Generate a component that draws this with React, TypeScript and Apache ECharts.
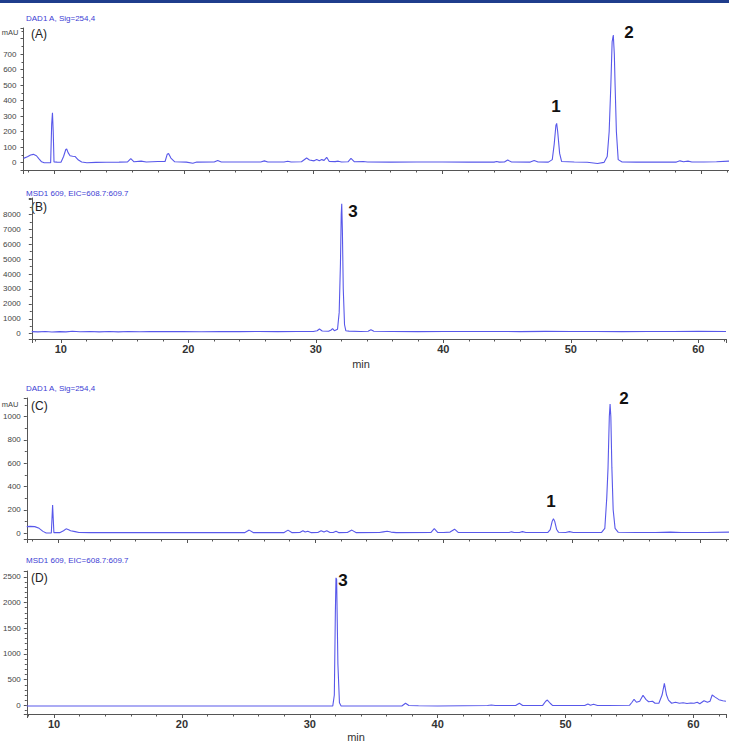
import React, { useEffect, useRef } from "react";
import * as echarts from "echarts";

// (time in min, signal)
const panelA: [number, number][] = [
  [7.6, 28], [7.9, 38], [8.15, 50], [8.36, 54], [8.6, 45], [8.8, 25], [9.0, 6], [9.2, 0], [9.7, 0],
  [9.78, 250], [9.84, 322], [9.9, 200], [9.96, 5], [10.2, 4], [10.5, 3], [10.7, 40], [10.87, 85],
  [10.94, 88], [11.05, 65], [11.2, 45], [11.4, 42], [11.6, 40], [11.85, 17], [12.1, 5], [12.5, 0],
  [13.2, 2], [14.0, 3], [15.0, 4], [15.65, 5], [15.9, 26], [16.15, 6], [16.7, 10], [17.1, 5],
  [18.0, 8], [18.55, 8], [18.72, 55], [18.82, 60], [19.0, 30], [19.3, 6], [20.2, 4], [20.7, -3],
  [21.0, 4], [22.35, 5], [22.62, 15], [22.9, 5], [25.95, 5], [26.23, 12], [26.5, 5], [27.75, 5],
  [28.04, 10], [28.3, 5], [29.1, 6], [29.5, 30], [29.72, 18], [29.89, 15], [30.08, 12], [30.28, 20],
  [30.48, 13], [30.67, 20], [30.85, 15], [31.05, 35], [31.25, 8], [31.7, 7], [31.95, 10], [32.2, 5],
  [32.7, 6], [32.93, 28], [33.2, 6], [33.89, 8], [34.2, 5], [36, 4], [38, 5], [40, 5], [42, 4],
  [44.0, 4], [44.2, 8], [44.4, 4], [44.8, 5], [45.05, 17], [45.35, 5], [46.8, 4], [47.1, 15],
  [47.4, 5], [48.2, 4], [48.5, 20], [48.65, 120], [48.78, 240], [48.84, 254], [48.92, 200],
  [49.07, 60], [49.22, 8], [50.2, 5], [51.2, 3], [52.0, -5], [52.5, 2], [52.75, 40], [52.9, 200],
  [53.03, 500], [53.13, 780], [53.22, 824], [53.3, 700], [53.36, 500], [53.46, 200], [53.6, 20],
  [53.9, 5], [55, 4], [56, 4], [57, 4], [58.1, 4], [58.38, 12], [58.65, 6], [59.0, 10], [59.3, 5],
  [60.2, 5], [61.2, 6], [62.17, 10],
];

const panelB: [number, number][] = [
  [7.72, 140], [8.2, 120], [8.8, 150], [9.3, 110], [9.9, 140], [10.4, 120], [10.9, 160], [11.5, 130],
  [12.3, 150], [13.0, 120], [13.8, 150], [14.5, 125], [15.3, 150], [16.2, 130], [17.0, 150],
  [18.0, 140], [19.5, 150], [21.0, 135], [22.5, 150], [24.0, 140], [25.5, 150], [27.0, 140],
  [28.5, 150], [29.8, 145], [30.1, 200], [30.28, 315], [30.5, 180], [31.0, 160], [31.2, 250],
  [31.31, 335], [31.45, 200], [31.7, 300], [31.83, 1430], [31.93, 4745], [31.99, 8000], [32.03, 8725],
  [32.08, 7000], [32.15, 3000], [32.25, 600], [32.35, 200], [32.6, 170], [33.5, 150], [34.1, 160],
  [34.32, 270], [34.55, 160], [36, 150], [38, 140], [40, 150], [42, 145], [44, 150], [46, 140],
  [48, 155], [50, 145], [52, 150], [54, 140], [56, 150], [58, 145], [60, 155], [62.17, 150],
];

const panelC: [number, number][] = [
  [7.54, 55], [7.8, 57], [8.16, 55], [8.5, 40], [8.8, 14], [9.05, 0], [9.45, 0], [9.5, 120],
  [9.55, 240], [9.6, 120], [9.65, 3], [10.1, 3], [10.4, 20], [10.6, 36], [10.8, 28], [10.95, 20],
  [11.3, 12], [11.6, 5], [12.5, 3], [15, 3], [18, 3], [21, 3], [24.5, 3], [24.86, 25], [25.2, 3],
  [27.55, 3], [27.88, 25], [28.2, 3], [28.8, 4], [29.04, 20], [29.22, 8], [29.42, 15], [29.7, 3],
  [30.2, 4], [30.46, 20], [30.68, 8], [30.9, 20], [31.15, 4], [31.4, 4], [31.62, 15], [31.85, 3],
  [32.5, 4], [32.85, 25], [33.2, 3], [35.0, 4], [35.3, 10], [35.6, 15], [35.9, 8], [36.3, 3],
  [39.0, 4], [39.27, 37], [39.55, 4], [40.0, 5], [40.5, 8], [40.85, 33], [41.15, 4], [43, 4],
  [45.1, 4], [45.28, 10], [45.5, 4], [45.9, 5], [46.13, 12], [46.4, 4], [48.1, 4], [48.3, 30],
  [48.45, 100], [48.55, 123], [48.65, 100], [48.8, 30], [48.95, 6], [49.5, 5], [49.79, 12],
  [50.1, 5], [51.5, 4], [52.3, 5], [52.55, 40], [52.7, 300], [52.8, 560], [52.9, 1000],
  [52.96, 1110], [53.02, 1000], [53.1, 560], [53.2, 200], [53.35, 40], [53.6, 6], [55, 5],
  [56.5, 4], [57.66, 8], [58.5, 5], [60.5, 5], [62.22, 8],
];

const panelD: [number, number][] = [
  [7.87, -12], [10, -12], [15, -12], [20, -12], [25, -12], [30, -12], [31.8, -12], [31.92, 200],
  [32.0, 1800], [32.05, 2480], [32.1, 2450], [32.2, 800], [32.32, 50], [32.45, -12], [34, -12],
  [37.2, -12], [37.49, 39], [37.75, -5], [38.5, -8], [40, -12], [42, -8], [43.9, -5], [44.2, 5],
  [44.5, -5], [46.1, -5], [46.39, 40], [46.65, -5], [48.2, -5], [48.45, 80], [48.58, 103],
  [48.8, 40], [49.0, -5], [51.5, -5], [51.75, 25], [51.95, 0], [52.19, 20], [52.5, -5], [53.3, -5],
  [55.0, 0], [55.2, 60], [55.36, 117], [55.55, 60], [55.8, 80], [56.06, 195], [56.3, 110],
  [56.5, 70], [56.8, 80], [57.0, 40], [57.3, 40], [57.55, 200], [57.73, 428], [57.9, 200],
  [58.05, 100], [58.3, 40], [58.6, 60], [58.9, 40], [59.2, 50], [59.5, 35], [59.8, 45],
  [60.05, 40], [60.3, 60], [60.5, 30], [60.83, 90], [61.1, 60], [61.3, 80], [61.47, 200],
  [61.7, 160], [62.0, 110], [62.3, 90], [62.55, 80],
];

const headers = ["DAD1 A, Sig=254,4", "MSD1 609, EIC=608.7:609.7", "DAD1 A, Sig=254,4", "MSD1 609, EIC=608.7:609.7"];
const panelTags = ["(A)", "(B)", "(C)", "(D)"];
const yUnit = "mAU";
const xName = "min";

// layout per panel
const layout = [
  { data: panelA, top: 28, height: 142, left: 23.5, xMin: 7.6, xMax: 62.17, yMin: -47, yMax: 869, yStep: 100, yLabelMax: 700, minor: 2, showX: false, unit: true, labelMargin: 7, headerY: 18, tagY: 34, unitY: 32 },
  { data: panelB, top: 198, height: 141, left: 25, xMin: 7.72, xMax: 62.17, yMin: -356, yMax: 9107, yStep: 1000, yLabelMax: 8000, minor: 2, showX: true, unit: false, labelMargin: 11, headerY: 193.5, tagY: 206.5, unitY: 0 },
  { data: panelC, top: 398, height: 141, left: 22, xMin: 7.54, xMax: 62.22, yMin: -51.5, yMax: 1161, yStep: 200, yLabelMax: 1000, minor: 2, showX: false, unit: true, labelMargin: 6, headerY: 388, tagY: 406, unitY: 404 },
  { data: panelD, top: 571, height: 143, left: 22, xMin: 7.87, xMax: 62.55, yMin: -169, yMax: 2613, yStep: 500, yLabelMax: 2500, minor: 5, showX: true, unit: false, labelMargin: 6, headerY: 560, tagY: 578, unitY: 0 },
];

const peakLabels = [
  { text: "1", x: 556, y: 106 },
  { text: "2", x: 629, y: 32 },
  { text: "3", x: 353, y: 211 },
  { text: "1", x: 551, y: 501 },
  { text: "2", x: 624, y: 398 },
  { text: "3", x: 343, y: 580 },
];

const minLabels = [
  { x: 361, y: 364 },
  { x: 356, y: 737 },
];

const LINE = "#5858ea";
const AXIS = "#555";
const FONT = "Liberation Sans, Arial, sans-serif";

export default function App() {
  const ref = useRef<HTMLDivElement>(null);
  useEffect(() => {
    if (!ref.current) return;
    const chart = echarts.init(ref.current, undefined, { renderer: "svg" });
    const grids = layout.map((p) => ({ left: p.left, right: 0, top: p.top, height: p.height }));
    const xAxes = layout.map((p, i) => ({
      type: "value",
      gridIndex: i,
      min: p.xMin,
      max: p.xMax,
      minInterval: 10,
      maxInterval: 10,
      axisLine: { show: true, onZero: false, lineStyle: { color: AXIS, width: 1 } },
      axisTick: { show: true, length: 4, lineStyle: { color: AXIS } },
      minorTick: { show: true, splitNumber: 5, length: 2.5, lineStyle: { color: AXIS } },
      splitLine: { show: false },
      axisLabel: {
        show: p.showX,
        margin: 4,
        fontSize: 11,
        fontWeight: "bold",
        fontFamily: "Liberation Sans Narrow, Liberation Sans, Arial",
        color: "#333",
        formatter: (v: number) => (Math.abs(v % 10) < 1e-6 && v >= 10 && v <= 60 ? String(v) : ""),
      },
    }));
    const yAxes = layout.map((p, i) => ({
      type: "value",
      gridIndex: i,
      min: p.yMin,
      max: p.yMax,
      minInterval: p.yStep,
      maxInterval: p.yStep,
      axisLine: { show: true, onZero: false, lineStyle: { color: AXIS, width: 1 } },
      axisTick: { show: true, length: 3, lineStyle: { color: AXIS } },
      minorTick: { show: true, splitNumber: p.minor, length: 2, lineStyle: { color: AXIS } },
      splitLine: { show: false },
      axisLabel: {
        margin: p.labelMargin,
        fontSize: 8,
        fontFamily: FONT,
        color: "#444",
        formatter: (v: number) =>
          v >= 0 && v <= p.yLabelMax && Math.abs(v % p.yStep) < 1e-6 ? String(v) : "",
      },
    }));
    const series = layout.map((p, i) => ({
      type: "line",
      xAxisIndex: i,
      yAxisIndex: i,
      data: p.data,
      symbol: "none",
      showSymbol: false,
      clip: true,
      lineStyle: { color: LINE, width: 1.1 },
    }));
    const graphics: any[] = [
      { type: "rect", shape: { x: 0, y: 0, width: 729, height: 3 }, style: { fill: "#1f3d8c" } },
    ];
    layout.forEach((p, i) => {
      graphics.push({
        type: "text", x: 26, y: p.headerY,
        style: { text: headers[i], fill: "#3d3dd4", fontSize: 8, fontFamily: FONT, textVerticalAlign: "middle", verticalAlign: "middle" },
      });
      graphics.push({
        type: "text", x: 31, y: p.tagY,
        style: { text: panelTags[i], fill: "#222", fontSize: 12, fontFamily: FONT, textVerticalAlign: "middle", verticalAlign: "middle" },
      });
      if (p.unit) {
        graphics.push({
          type: "text", x: 18.5, y: p.unitY,
          style: { text: yUnit, fill: "#444", fontSize: 7.5, fontFamily: FONT, textAlign: "right", align: "right", textVerticalAlign: "middle", verticalAlign: "middle" },
        });
      }
    });
    peakLabels.forEach((l) => {
      graphics.push({
        type: "text", x: l.x, y: l.y,
        style: { text: l.text, fill: "#111", fontSize: 17, fontWeight: "bold", fontFamily: FONT, textAlign: "center", align: "center", textVerticalAlign: "middle", verticalAlign: "middle" },
      });
    });
    minLabels.forEach((m) => {
      graphics.push({
        type: "text", x: m.x, y: m.y,
        style: { text: xName, fill: "#333", fontSize: 11, fontFamily: FONT, textAlign: "center", align: "center", textVerticalAlign: "middle", verticalAlign: "middle" },
      });
    });

    chart.setOption({
      animation: false,
      backgroundColor: "#ffffff",
      grid: grids,
      xAxis: xAxes,
      yAxis: yAxes,
      series,
      graphic: graphics,
    });
    return () => chart.dispose();
  }, []);
  return (
    <div style={{ position: "absolute", left: 0, top: 0, width: 729, height: 743, overflow: "hidden" }}>
      <div ref={ref} style={{ width: 729, height: 743 }} />
    </div>
  );
}
